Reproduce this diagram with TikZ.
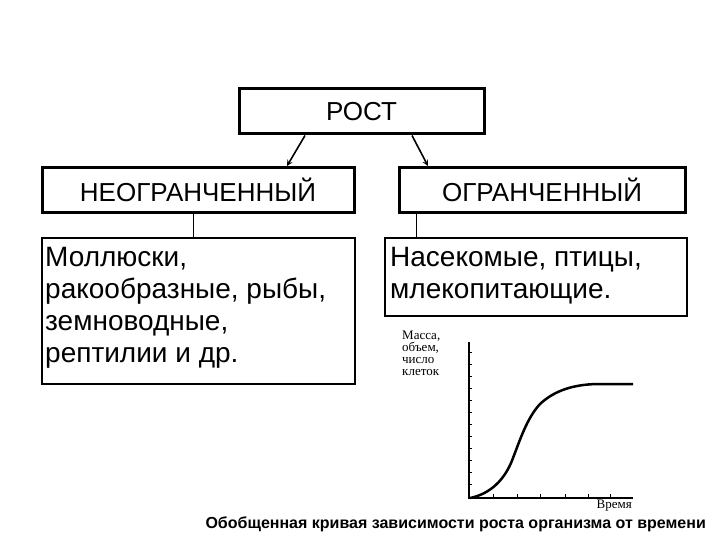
\documentclass[tikz,border=0pt]{standalone}
\usepackage{fontspec}
\setmainfont{Liberation Sans}
\newfontfamily\serifz{Liberation Serif}
\begin{document}
\begin{tikzpicture}[x=1pt,y=-1pt,
  bx/.style={draw,line width=3pt,minimum height=45pt,font=\fontsize{26}{30}\selectfont},
  lst/.style={align=left,anchor=north west,inner sep=4pt,font=\fontsize{28}{32}\selectfont},
  arr/.style={line width=1.6pt,-stealth}]
\useasboundingbox (0,0) rectangle (720,540);
\node[bx,minimum width=245pt] (rost) at (361.5,111.5) {РОСТ};
\node[bx,minimum width=312pt] (neo) at (198,190) {НЕОГРАНЧЕННЫЙ};
\node[bx,minimum width=286pt] (ogr) at (542,190) {ОГРАНЧЕННЫЙ};
\node[draw,line width=2pt,minimum width=313pt,minimum height=146pt,anchor=north west] (l1) at (41,237) {};
\node[lst] (t1) at (41,243) {Моллюски,\\ракообразные, рыбы,\\земноводные,\\рептилии и др.};
\node[draw,line width=2pt,minimum width=302pt,minimum height=78pt,anchor=north west] (l2) at (384,237) {};
\node[lst] (t2) at (386,243) {Насекомые, птицы,\\млекопитающие.};
\draw[arr] (rost.south -| 305,0) -- (neo.north -| 287,0);
\draw[arr] (rost.south -| 412,0) -- (ogr.north -| 428,0);
\draw[line width=1pt] (neo.south -| 193,0) -- (l1.north -| 193,0);
\draw[line width=1pt] (ogr.south -| 416,0) -- (l2.north -| 416,0);
% graph
\coordinate (o) at (469,498);
\coordinate (ytop) at (469,342);
\coordinate (xend) at (633,498);
\draw[line width=1.5pt] (ytop) -- (o) -- (xend);
\foreach \y in {352,364,376,388,400,412,424,436,448,460,472,484} \draw (469,\y) -- (472,\y);
\foreach \x in {493,517,540,565,588,610} \draw (\x,498) -- (\x,494);
\draw[line width=2.5pt] (470,498) .. controls (490,494) and (505,480) .. (513,458)
  .. controls (520,440) and (527,418) .. (540,404)
  .. controls (555,390) and (575,384) .. (600,384) -- (633,384);
\node[font=\serifz\fontsize{13}{12}\selectfont,align=left,anchor=north west,inner sep=0] (yl) at (402,331) {Масса,\\объем,\\число\\клеток};
\node[font=\serifz\fontsize{13}{13}\selectfont,anchor=north east,inner sep=0] (xl) at (632,500) {Время};
\node[font=\bfseries\fontsize{16}{18}\selectfont,anchor=east,inner sep=0] (cap) at (706,524) {Обобщенная кривая зависимости роста организма от времени};
\end{tikzpicture}
\end{document}
